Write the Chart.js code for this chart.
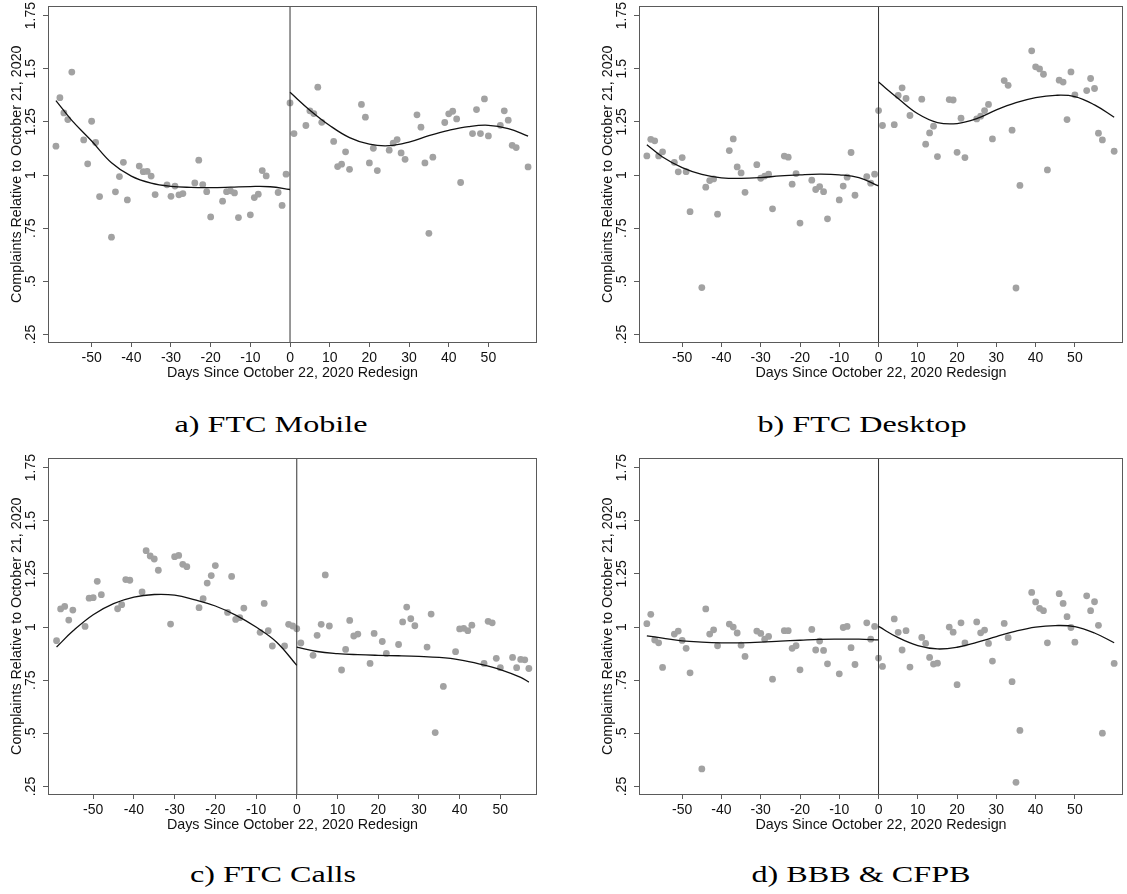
<!DOCTYPE html>
<html><head><meta charset="utf-8">
<script src="https://cdn.jsdelivr.net/npm/chart.js@4/dist/chart.umd.min.js"></script>
<style>
html,body{margin:0;padding:0;background:#fff;}
body{width:1127px;height:894px;position:relative;overflow:hidden;}
canvas{position:absolute;}
.cap{position:absolute;width:400px;text-align:center;font-family:"Liberation Serif","Times New Roman",serif;font-size:24px;line-height:24px;color:#000;transform:scaleX(1.34);transform-origin:50% 50%;white-space:nowrap;}
</style></head><body>
<canvas id="ca" width="545" height="390" style="left:0;top:0"></canvas>
<canvas id="cb" width="536" height="390" style="left:591px;top:0"></canvas>
<canvas id="cc" width="545" height="390" style="left:0;top:452px"></canvas>
<canvas id="cd" width="536" height="390" style="left:591px;top:452px"></canvas>
<div class="cap" style="left:71px;top:412px">a) FTC Mobile</div>
<div class="cap" style="left:662px;top:412px">b) FTC Desktop</div>
<div class="cap" style="left:73px;top:862px">c) FTC Calls</div>
<div class="cap" style="left:661px;top:862px">d) BBB &amp; CFPB</div>
<script>
// ---- tick labels / titles ----
const xTicks = [-50,-40,-30,-20,-10,0,10,20,30,40,50];
const xTickLabels = ["-50","-40","-30","-20","-10","0","10","20","30","40","50"];
const yTicks = [0.25,0.5,0.75,1,1.25,1.5,1.75];
const yTickLabels = [".25",".5",".75","1","1.25","1.5","1.75"];
const xTitle = "Days Since October 22, 2020 Redesign";
const yTitle = "Complaints Relative to October 21, 2020";
const cutoff = 0;

// ---- days (weekdays) ----
const daysWeekday = [-59,-58,-57,-56,-55,-52,-51,-50,-49,-48,-45,-44,-43,-42,-41,-38,-37,-36,-35,-34,-31,-30,-29,-28,-27,-24,-23,-22,-21,-20,-17,-16,-15,-14,-13,-10,-9,-8,-7,-6,-3,-2,-1,
  0,1,4,5,6,7,8,11,12,13,14,15,18,19,20,21,22,25,26,27,28,29,32,33,34,35,36,39,40,41,42,43,46,47,48,49,50,53,54,55,56,57,60];
const daysCalls = [-59,-58,-57,-56,-55,-52,-51,-50,-49,-48,-44,-43,-42,-41,-38,-37,-36,-35,-34,-31,-30,-29,-28,-27,-24,-23,-22,-21,-20,-17,-16,-15,-14,-13,-9,-8,-7,-6,-3,-2,-1,
  0,1,4,5,6,7,8,11,12,13,14,15,18,19,21,22,25,26,27,28,29,32,33,34,36,39,40,41,42,43,46,47,48,49,50,53,54,55,56,57];

// ---- observed values ----
const mobileVals = [1.136,1.364,1.292,1.261,1.484,1.165,1.053,1.253,1.153,0.899,0.708,0.921,0.993,1.060,0.883,1.042,1.016,1.017,0.995,0.908,0.954,0.900,0.948,0.907,0.913,0.963,1.070,0.955,0.922,0.803,0.877,0.922,0.926,0.916,0.800,0.813,0.894,0.910,1.021,0.996,0.918,0.857,1.004,
  1.339,1.195,1.233,1.302,1.289,1.413,1.248,1.158,1.040,1.051,1.109,1.027,1.332,1.272,1.057,1.126,1.021,1.117,1.150,1.167,1.104,1.074,1.283,1.225,1.057,0.726,1.084,1.247,1.288,1.300,1.264,0.965,1.195,1.308,1.195,1.358,1.184,1.234,1.302,1.258,1.140,1.129,1.038];
const desktopVals = [1.090,1.168,1.161,1.090,1.109,1.060,1.015,1.082,1.016,0.828,0.471,0.943,0.974,0.982,0.816,1.115,1.170,1.038,1.010,0.919,1.049,0.985,0.995,1.004,0.841,1.089,1.084,0.957,1.007,0.774,0.976,0.932,0.946,0.922,0.794,0.883,0.948,0.990,1.106,0.905,0.993,0.962,1.004,
  1.303,1.233,1.237,1.374,1.410,1.360,1.280,1.357,1.145,1.198,1.230,1.087,1.355,1.353,1.107,1.267,1.082,1.264,1.277,1.303,1.332,1.170,1.444,1.422,1.211,0.469,0.951,1.584,1.509,1.499,1.474,1.024,1.446,1.437,1.261,1.485,1.377,1.397,1.454,1.407,1.197,1.165,1.112];
const callsVals = [0.936,1.085,1.097,1.033,1.080,1.003,1.136,1.138,1.215,1.152,1.086,1.105,1.223,1.220,1.165,1.359,1.334,1.320,1.267,1.014,1.331,1.337,1.295,1.284,1.091,1.133,1.207,1.242,1.289,1.069,1.238,1.036,1.044,1.089,0.975,1.111,0.983,0.911,0.911,1.013,1.005,
  0.992,0.925,0.867,0.961,1.013,1.245,1.005,0.798,0.895,1.031,0.958,0.967,0.829,0.970,0.932,0.876,0.918,1.024,1.094,1.039,1.006,0.906,1.061,0.504,0.721,0.884,0.991,0.994,0.983,1.009,0.829,1.027,1.020,0.853,0.809,0.857,0.809,0.848,0.846,0.805];
const bbbVals = [1.016,1.060,0.939,0.926,0.810,0.967,0.981,0.937,0.900,0.785,0.333,1.085,0.967,0.987,0.912,1.014,1.000,0.972,0.915,0.862,0.981,0.970,0.943,0.956,0.755,0.983,0.983,0.900,0.912,0.799,0.989,0.892,0.934,0.890,0.827,0.780,0.998,1.003,0.903,0.824,1.020,0.943,1.003,
  0.854,0.815,1.038,0.975,0.892,0.983,0.812,0.951,0.923,0.857,0.826,0.830,1.000,0.976,0.729,1.020,0.925,1.024,0.973,0.986,0.923,0.840,1.017,0.950,0.743,0.270,0.514,1.163,1.118,1.088,1.077,0.926,1.157,1.111,1.049,0.998,0.929,1.147,1.077,1.119,1.008,0.501,0.829];

// ---- fitted curves ----
const fitDaysLeft = [-59,-55,-50,-45,-40,-35,-30,-25,-20,-15,-10,-5,0];
const fitDaysRight = [0,5,10,15,20,25,30,35,40,45,50,55,60];
const fitDaysRightCalls = [0,5,10,15,20,25,30,35,40,45,50,55,57];
const mobileFitLeft = [1.350,1.257,1.160,1.058,0.995,0.962,0.947,0.942,0.941,0.943,0.946,0.945,0.932];
const mobileFitRight = [1.389,1.305,1.233,1.176,1.145,1.138,1.155,1.185,1.210,1.228,1.234,1.218,1.183];
const desktopFitLeft = [1.143,1.085,1.035,1.003,0.987,0.984,0.988,0.996,1.001,1.004,1.001,0.988,0.949];
const desktopFitRight = [1.437,1.360,1.288,1.247,1.242,1.265,1.306,1.340,1.364,1.375,1.369,1.330,1.272];
const callsFitLeft = [0.906,0.981,1.058,1.110,1.141,1.153,1.150,1.128,1.099,1.056,1.000,0.930,0.820];
const callsFitRight = [0.906,0.885,0.875,0.870,0.867,0.865,0.862,0.857,0.846,0.826,0.800,0.763,0.741];
const bbbFitLeft = [0.959,0.948,0.935,0.929,0.926,0.926,0.929,0.934,0.938,0.942,0.943,0.943,0.940];
const bbbFitRight = [1.003,0.950,0.913,0.897,0.905,0.928,0.955,0.981,1.000,1.007,1.002,0.972,0.926];

const Y_MIN = 0.215, Y_MAX = 1.793;

Chart.defaults.font.family = "'Liberation Sans', Arial, sans-serif";
Chart.defaults.color = '#111';

const framePlugin = {
  id: 'frame',
  afterDatasetsDraw(chart) {
    const {ctx, chartArea: a} = chart;
    ctx.save();
    ctx.strokeStyle = '#5a5a5a';
    ctx.lineWidth = 1;
    ctx.strokeRect(Math.round(a.left) + 0.5, Math.round(a.top) + 0.5, Math.round(a.right - a.left) - 1, Math.round(a.bottom - a.top));
    ctx.restore();
  }
};

function pairs(xs, ys) { return xs.map((x, i) => ({x: x, y: ys[i]})); }

function makeChart(id, days, vals, fLX, fLY, fRX, fRY, xMin, xMax, padRight) {
  new Chart(document.getElementById(id), {
    type: 'scatter',
    data: { datasets: [
      { data: pairs(fLX, fLY), showLine: true, borderColor: '#111', borderWidth: 1.3, pointRadius: 0, tension: 0.4, fill: false, order: 1 },
      { data: pairs(fRX, fRY), showLine: true, borderColor: '#111', borderWidth: 1.3, pointRadius: 0, tension: 0.4, fill: false, order: 1 },
      { data: [{x: cutoff, y: Y_MIN}, {x: cutoff, y: Y_MAX}], showLine: true, borderColor: '#333', borderWidth: 1, pointRadius: 0, order: 2 },
      { data: pairs(days, vals), pointRadius: 3.4, pointBackgroundColor: '#a2a2a2', pointBorderColor: '#a2a2a2', pointBorderWidth: 0, order: 3 }
    ]},
    options: {
      responsive: false, animation: false, events: [],
      layout: { padding: { top: 6, right: padRight, bottom: 0, left: 0 } },
      plugins: { legend: { display: false }, tooltip: { enabled: false } },
      scales: {
        x: {
          type: 'linear', min: xMin, max: xMax,
          afterBuildTicks: s => { s.ticks = xTicks.map(v => ({value: v})); },
          afterFit: s => { s.height = 48; },
          grid: { drawOnChartArea: false, drawTicks: true, tickLength: 5, color: '#5a5a5a', lineWidth: 1 },
          border: { display: false },
          ticks: { autoSkip: false, maxRotation: 0, minRotation: 0, padding: 3, font: { size: 14 }, color: '#111',
            callback: (v) => xTickLabels[xTicks.indexOf(v)] },
          title: { display: true, text: xTitle, font: { size: 14.3 }, color: '#111', padding: { top: 0, bottom: 8.4 } }
        },
        y: {
          type: 'linear', min: Y_MIN, max: Y_MAX,
          afterBuildTicks: s => { s.ticks = yTicks.map(v => ({value: v})); },
          afterFit: s => { s.width = 48; },
          grid: { drawOnChartArea: false, drawTicks: true, tickLength: 5, color: '#5a5a5a', lineWidth: 1 },
          border: { display: false },
          ticks: { autoSkip: false, minRotation: 90, maxRotation: 90, crossAlign: 'center', padding: -2, font: { size: 14 }, color: '#111',
            callback: (v) => yTickLabels[yTicks.indexOf(v)] },
          title: { display: true, text: yTitle, font: { size: 14.3 }, color: '#111', padding: { top: 8.5, bottom: 0 } }
        }
      }
    },
    plugins: [framePlugin]
  });
}

makeChart('ca', daysWeekday, mobileVals, fitDaysLeft, mobileFitLeft, fitDaysRight, mobileFitRight, -61.0, 62.25, 8);
makeChart('cb', daysWeekday, desktopVals, fitDaysLeft, desktopFitLeft, fitDaysRight, desktopFitRight, -61.0, 62.25, 1);
makeChart('cc', daysCalls, callsVals, fitDaysLeft, callsFitLeft, fitDaysRightCalls, callsFitRight, -61.1, 59.0, 8);
makeChart('cd', daysWeekday, bbbVals, fitDaysLeft, bbbFitLeft, fitDaysRight, bbbFitRight, -61.0, 62.25, 1);
</script>
</body></html>
